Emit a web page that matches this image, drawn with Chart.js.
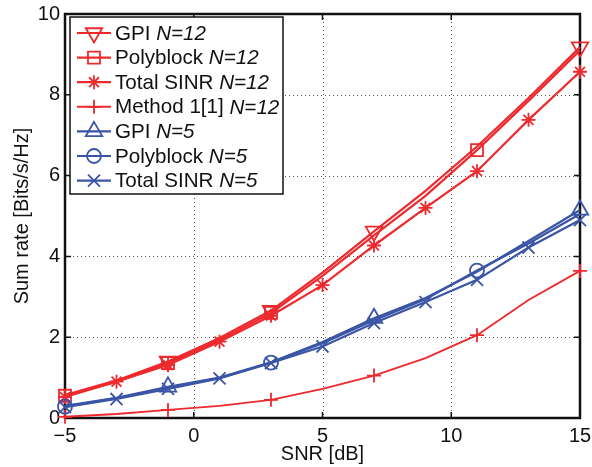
<!DOCTYPE html>
<html>
<head>
<meta charset="utf-8">
<script src="https://cdn.jsdelivr.net/npm/chart.js@4/dist/chart.umd.min.js"></script>
<style>
  html, body { margin: 0; padding: 0; background: #fff; }
  #wrap { position: relative; width: 592px; height: 467px; }
</style>
</head>
<body>
<div id="wrap"><canvas id="c" width="592" height="467"></canvas></div>
<script>
// ---- data ----
const snr = [-5, -3, -1, 1, 3, 5, 7, 9, 11, 13, 15];
const gpi12    = [0.57, 0.93, 1.40, 1.98, 2.66, 3.60, 4.62, 5.62, 6.72, 7.92, 9.18];
const poly12   = [0.55, 0.90, 1.36, 1.93, 2.60, 3.52, 4.52, 5.50, 6.63, 7.85, 9.10];
const sinr12   = [0.52, 0.90, 1.31, 1.89, 2.53, 3.29, 4.27, 5.20, 6.11, 7.38, 8.57];
const method12 = [0.03, 0.10, 0.20, 0.30, 0.45, 0.72, 1.05, 1.48, 2.05, 2.92, 3.64];
const gpi5     = [0.30, 0.50, 0.77, 1.00, 1.38, 1.88, 2.47, 2.97, 3.62, 4.38, 5.15];
const poly5    = [0.28, 0.49, 0.75, 0.99, 1.37, 1.85, 2.42, 2.94, 3.65, 4.32, 5.05];
const sinr5    = [0.27, 0.47, 0.72, 0.98, 1.36, 1.77, 2.35, 2.87, 3.42, 4.22, 4.90];
const xTicks = [-5, 0, 5, 10, 15];
const yTicks = [0, 2, 4, 6, 8, 10];
const labelsMain = ['GPI ', 'Polyblock ', 'Total SINR ', 'Method 1[1] ', 'GPI ', 'Polyblock ', 'Total SINR '];
const labelsN = ['N=12', 'N=12', 'N=12', 'N=12', 'N=5', 'N=5', 'N=5'];

// ---- styles ----
const RED = '#ed2a2e';
const BLUE = '#3a55a6';
const FONT = '"Liberation Sans", Arial, Helvetica, sans-serif';

function pts(arr) { return snr.map((x, i) => ({ x: x, y: arr[i] })); }

const series = [
  { data: gpi12,    color: RED,  style: 'triangle', rot: 180, r: 9.5, marks: [-1, 3, 7, 15] },
  { data: poly12,   color: RED,  style: 'rect',     rot: 0,   r: 8.5, marks: [-5, -1, 3, 11] },
  { data: sinr12,   color: RED,  style: 'star',     rot: 0,   r: 7,   marks: snr },
  { data: method12, color: RED,  style: 'cross',    rot: 0,   r: 7,   marks: [-5, -1, 3, 7, 11, 15], lw: 1.9 },
  { data: gpi5,     color: BLUE, style: 'triangle', rot: 0,   r: 9.5, marks: [-1, 7, 15] },
  { data: poly5,    color: BLUE, style: 'circle',   rot: 0,   r: 7,   marks: [-5, 3, 11] },
  { data: sinr5,    color: BLUE, style: 'crossRot', rot: 0,   r: 8.5, marks: snr }
];

const datasets = series.map((s, k) => ({
  label: labelsMain[k] + labelsN[k],
  data: pts(s.data),
  borderColor: s.color,
  borderWidth: s.lw || 2.2,
  pointStyle: s.style,
  pointRotation: s.rot,
  pointBorderColor: s.color,
  pointBackgroundColor: 'rgba(0,0,0,0)',
  pointBorderWidth: 1.8,
  pointRadius: (ctx) => (s.marks.includes(snr[ctx.dataIndex]) ? s.r : 0),
  pointHoverRadius: 0,
  tension: 0,
  fill: false,
  clip: false,
  order: 7 - k
}));

function drawMarker(ctx, style, x, y, r, rot) {
  ctx.beginPath();
  const d2r = Math.PI / 180;
  if (style === 'triangle') {
    let a = rot * d2r;
    ctx.moveTo(x + Math.sin(a) * r, y - Math.cos(a) * r);
    a += 2 * Math.PI / 3;
    ctx.lineTo(x + Math.sin(a) * r, y - Math.cos(a) * r);
    a += 2 * Math.PI / 3;
    ctx.lineTo(x + Math.sin(a) * r, y - Math.cos(a) * r);
    ctx.closePath();
  } else if (style === 'rect') {
    const s = r * Math.SQRT1_2;
    ctx.rect(x - s, y - s, 2 * s, 2 * s);
  } else if (style === 'circle') {
    ctx.arc(x, y, r, 0, 2 * Math.PI);
  } else if (style === 'cross') {
    ctx.moveTo(x, y - r); ctx.lineTo(x, y + r);
    ctx.moveTo(x - r, y); ctx.lineTo(x + r, y);
  } else if (style === 'crossRot') {
    const s = r * Math.SQRT1_2;
    ctx.moveTo(x - s, y - s); ctx.lineTo(x + s, y + s);
    ctx.moveTo(x - s, y + s); ctx.lineTo(x + s, y - s);
  } else if (style === 'star') {
    const s = r * Math.SQRT1_2;
    ctx.moveTo(x, y - r); ctx.lineTo(x, y + r);
    ctx.moveTo(x - r, y); ctx.lineTo(x + r, y);
    ctx.moveTo(x - s, y - s); ctx.lineTo(x + s, y + s);
    ctx.moveTo(x - s, y + s); ctx.lineTo(x + s, y - s);
  }
  ctx.stroke();
}

const framePlugin = {
  id: 'frame',
  beforeDatasetsDraw(chart) {
    const { ctx, chartArea: a, scales } = chart;
    const xs = scales.x, ys = scales.y;
    ctx.save();
    // dotted grid
    ctx.strokeStyle = '#555';
    ctx.lineWidth = 1;
    ctx.setLineDash([1, 3]);
    xTicks.forEach(v => {
      if (v === xTicks[0] || v === xTicks[xTicks.length - 1]) return;
      const px = Math.round(xs.getPixelForValue(v)) + 0.5;
      ctx.beginPath(); ctx.moveTo(px, a.top); ctx.lineTo(px, a.bottom); ctx.stroke();
    });
    yTicks.forEach(v => {
      if (v === yTicks[0] || v === yTicks[yTicks.length - 1]) return;
      const py = Math.round(ys.getPixelForValue(v)) + 0.5;
      ctx.beginPath(); ctx.moveTo(a.left, py); ctx.lineTo(a.right, py); ctx.stroke();
    });
    ctx.setLineDash([]);
    // inward ticks
    ctx.strokeStyle = '#111';
    ctx.lineWidth = 1.5;
    const T = 6;
    xTicks.forEach(v => {
      const px = xs.getPixelForValue(v);
      ctx.beginPath();
      ctx.moveTo(px, a.bottom); ctx.lineTo(px, a.bottom - T);
      ctx.moveTo(px, a.top); ctx.lineTo(px, a.top + T);
      ctx.stroke();
    });
    yTicks.forEach(v => {
      const py = ys.getPixelForValue(v);
      ctx.beginPath();
      ctx.moveTo(a.left, py); ctx.lineTo(a.left + T, py);
      ctx.moveTo(a.right, py); ctx.lineTo(a.right - T, py);
      ctx.stroke();
    });
    // frame
    ctx.lineWidth = 2.5;
    ctx.strokeRect(a.left, a.top, a.right - a.left, a.bottom - a.top);
    // axis titles
    ctx.fillStyle = '#111';
    ctx.font = '20px ' + FONT;
    ctx.textAlign = 'center';
    ctx.textBaseline = 'middle';
    ctx.fillText('SNR [dB]', (a.left + a.right) / 2, 454);
    ctx.save();
    ctx.translate(22, (a.top + a.bottom) / 2);
    ctx.rotate(-Math.PI / 2);
    ctx.fillText('Sum rate [Bits/s/Hz]', 0, 0);
    ctx.restore();
    ctx.restore();
  },
  afterDraw(chart) {
    const { ctx } = chart;
    ctx.save();
    const bx = 70, by = 17, bw = 213, bh = 177;
    ctx.fillStyle = '#fff';
    ctx.fillRect(bx, by, bw, bh);
    ctx.strokeStyle = '#111';
    ctx.lineWidth = 1.5;
    ctx.strokeRect(bx, by, bw, bh);
    const rowH = 24.6;
    series.forEach((s, k) => {
      const cy = by + 16 + k * rowH;
      ctx.strokeStyle = s.color;
      ctx.lineWidth = s.lw || 2.2;
      ctx.beginPath(); ctx.moveTo(77, cy); ctx.lineTo(111, cy); ctx.stroke();
      ctx.lineWidth = 1.8;
      drawMarker(ctx, s.style, 94, cy, s.r, s.rot);
      ctx.fillStyle = '#111';
      ctx.textAlign = 'left';
      ctx.textBaseline = 'middle';
      ctx.font = '20.6px ' + FONT;
      ctx.fillText(labelsMain[k], 115, cy + 1);
      const w = ctx.measureText(labelsMain[k]).width;
      ctx.font = 'italic 20.6px ' + FONT;
      ctx.fillText(labelsN[k], 115 + w, cy + 1);
    });
    ctx.restore();
  }
};

new Chart(document.getElementById('c'), {
  type: 'line',
  data: { datasets },
  plugins: [framePlugin],
  options: {
    responsive: false,
    animation: false,
    events: [],
    layout: { padding: { top: 14, right: 12, left: 0, bottom: 0 } },
    plugins: { legend: { display: false }, tooltip: { enabled: false }, title: { display: false } },
    scales: {
      x: {
        type: 'linear', min: -5, max: 15,
        afterBuildTicks: (sc) => { sc.ticks = xTicks.map(v => ({ value: v })); },
        afterFit: (sc) => { sc.height = 49; sc.paddingLeft = 0; sc.paddingRight = 0; },
        grid: { display: false, drawTicks: false },
        border: { display: false },
        ticks: {
          color: '#111', font: { family: FONT, size: 20 }, padding: 6,
          maxRotation: 0, autoSkip: false,
          callback: (v) => (v < 0 ? '\u2212' + Math.abs(v) : String(v))
        }
      },
      y: {
        type: 'linear', min: 0, max: 10,
        afterBuildTicks: (sc) => { sc.ticks = yTicks.map(v => ({ value: v })); },
        afterFit: (sc) => { sc.width = 65; sc.paddingTop = 0; sc.paddingBottom = 0; },
        grid: { display: false, drawTicks: false },
        border: { display: false },
        ticks: { color: '#111', font: { family: FONT, size: 20 }, padding: 5, autoSkip: false }
      }
    }
  }
});
</script>
</body>
</html>
